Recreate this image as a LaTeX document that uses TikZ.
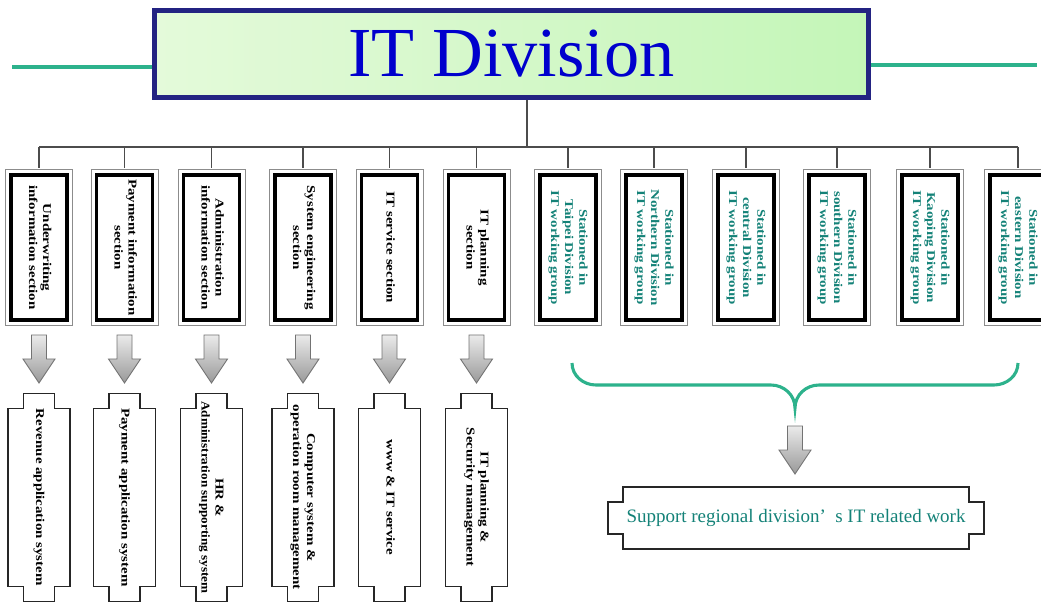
\documentclass[tikz,border=0pt]{standalone}
\usepackage{fontspec}
\setmainfont{Liberation Serif}
\usepackage{graphicx}
\usetikzlibrary{positioning}

\definecolor{titlenavy}{RGB}{35,35,130}
\definecolor{titleblue}{RGB}{0,0,205}
\definecolor{linegreen}{RGB}{45,178,140}
\definecolor{groupteal}{RGB}{20,130,120}
\definecolor{paleleft}{RGB}{228,250,218}
\definecolor{paleright}{RGB}{196,246,184}

% rotated label, read from top to bottom
\newcommand{\vlabel}[1]{\rotatebox{-90}{\scalebox{1.25}[1]{\begin{tabular}{@{}c@{}}#1\end{tabular}}}}
% gray block arrow below a point
\newcommand{\grayarrow}[2]{\draw[blockarrow, shift={(#1)}] (-7.5,#2) -- ++(15,0) -- ++(0,24) -- ++(8.5,0) -- ++(-16,24) -- ++(-16,-24) -- ++(8.5,0) -- cycle;}

\begin{document}
\begin{tikzpicture}[
		x=0.025cm, y=-0.025cm,
		titlebox/.style={
			draw=titlenavy,
			line width=3.6pt,
			minimum width=17.85cm,
			minimum height=2.175cm,
			left color=paleleft,
			middle color=white,
			right color=paleright,
			text=titleblue,
			font=\fontsize{50}{50}\selectfont
		},
		unitbox/.style={
			draw=black,
			line width=2.8pt,
			fill=white,
			minimum width=1.4cm,
			minimum height=3.625cm,
			inner sep=0pt,
			font=\fontsize{8.5}{10}\selectfont\bfseries
		},
		sysbox/.style={
			minimum width=1.55cm,
			minimum height=4.45cm,
			inner sep=0pt,
			font=\fontsize{8.5}{10}\selectfont\bfseries
		},
		sysline/.style={
			draw=black!85,
			line width=0.8pt,
			fill=white
		},
		blockarrow/.style={
			draw=black!55,
			line width=0.6pt,
			top color=black!8,
			bottom color=black!40
		},
		link/.style={
			draw=black!70,
			line width=0.8pt
		},
		greenline/.style={
			draw=linegreen,
			line width=2.6pt
		}
	]
	\useasboundingbox (0,0) rectangle (1041,601);

	\node[titlebox] (title) at (511.5,54) {IT Division};
	\draw[titlenavy, line width=0.9pt] ([shift={(4.5,4.5)}]title.north west) rectangle ([shift={(-4.5,-4.5)}]title.south east);

	\coordinate (lend) at (12,67);
	\coordinate (rend) at (1037,65);
	\draw[greenline] (lend) -- (lend -| title.west);
	\draw[greenline] (title.east |- rend) -- (rend);

	% sections
	\foreach \i/\x/\txt in {
		1/39/{Underwriting\\information section},
		2/124.5/{Payment information\\section},
		3/211.5/{Administration\\information section},
		4/303/{System engineering\\section},
		5/389.5/{IT service section},
		6/476.5/{IT planning\\section}}{
		\node[unitbox] (u\i) at (\x,247.5) {\vlabel{\txt}};
	}
	% regional working groups
	\foreach \i/\x/\txt in {
		7/568/{Stationed in\\Taipei Division\\IT working group},
		8/654/{Stationed in\\Northern Division\\IT working group},
		9/746/{Stationed in\\central Division\\IT working group},
		10/837/{Stationed in\\southern Division\\IT working group},
		11/930/{Stationed in\\Kaoping Division\\IT working group},
		12/1018/{Stationed in\\eastern Division\\IT working group}}{
		\node[unitbox, text=groupteal] (u\i) at (\x,247.5) {\vlabel{\txt}};
	}
	\foreach \i in {1,...,12}
		\draw[black!45, line width=0.6pt] ([shift={(-3.5,-3.5)}]u\i.north west) rectangle ([shift={(3.5,3.5)}]u\i.south east);

	\coordinate (hub) at (527,147);
	\draw[link] (title.south -| hub) -- (hub);
	\draw[link] (u1.north |- hub) -- (u12.north |- hub);
	\foreach \i in {1,...,12}
		\draw[link] (u\i.north |- hub) -- ([yshift=3.5]u\i.north);

	% systems
	\foreach \i/\txt in {
		1/{Revenue application system},
		2/{Payment application system},
		3/{HR \&\\\scalebox{0.88}[1]{Administration supporting system}},
		4/{Computer system \&\\operation room management},
		5/{www \& IT service},
		6/{IT planning \&\\Security management}}{
		\node[sysbox, below=2.15cm of u\i] (s\i) {};
		\draw[sysline, shift={(s\i.center)}] (-31,-89) -- (-15.5,-89) -- (-15.5,-104) -- (15.5,-104) -- (15.5,-89) -- (31,-89) -- (31,89) -- (15.5,89) -- (15.5,104) -- (-15.5,104) -- (-15.5,89) -- (-31,89) -- cycle;
		\node[sysbox] at (s\i.center) {\vlabel{\txt}};
		\grayarrow{u\i.south}{13}
	}

	% brace over the working groups
	\coordinate (tip) at (795,408);
	\draw[greenline, line width=2.2pt] (572,363) to[out=-90,in=180] (596,385) -- (771,385) to[out=0,in=90] (tip) to[out=90,in=180] (819,385) -- (994,385) to[out=0,in=-90] (1018,363);
	\grayarrow{tip}{18}

	\node[inner sep=0pt, minimum width=8.65cm, minimum height=1.55cm] (support) at (796,518) {};
	\draw[sysline, shift={(support.center)}] (-173,-31) -- (173,-31) -- (173,-16) -- (188,-16) -- (188,16) -- (173,16) -- (173,31) -- (-173,31) -- (-173,16) -- (-188,16) -- (-188,-16) -- (-173,-16) -- cycle;
	\node[text=groupteal, font=\fontsize{13.5}{14}\selectfont] at (support.center) {Support regional division'~ s IT related work};

\end{tikzpicture}
\end{document}
